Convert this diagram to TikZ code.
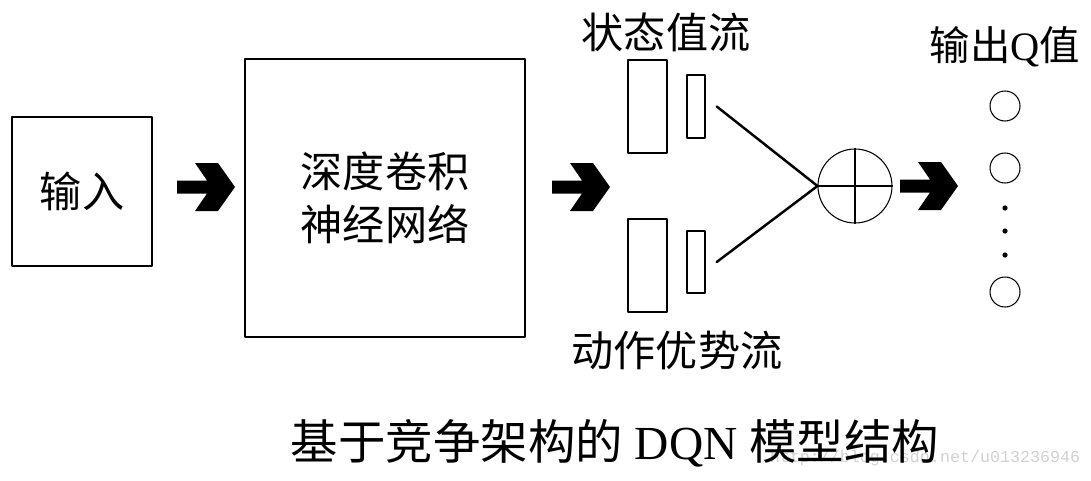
\documentclass[tikz,border=0pt]{standalone}
\usepackage{fontspec}
\setmainfont{Liberation Serif}
\setmonofont{Liberation Mono}
\newfontfamily\cjk{Noto Sans CJK SC}
\usetikzlibrary{positioning}

\tikzset{
  blk/.style={draw,line width=0.8pt,inner sep=0pt},
  lbl/.style={font=\cjk\fontsize{24}{28}\selectfont,inner sep=0pt},
  outq/.style={draw,circle,line width=0.6pt,minimum size=0.6cm,inner sep=0pt},
  fatarrow/.pic={\fill (-29,-6.5) -- (1,-6.5) -- (-11,-24) -- (12,-24) -- (29,0) -- (12,24) -- (-11,24) -- (1,6.5) -- (-29,6.5) -- cycle;}
}

\begin{document}
\begin{tikzpicture}[x=0.02cm,y=-0.02cm,line cap=round,line join=round]
  \useasboundingbox (0,0) rectangle (1091,480);
  % input and network
  \node[blk,minimum width=2.8cm,minimum height=2.98cm] (in) at (82,191.5) {};
  \node[lbl] at (in.center) {输入};
  \node[blk,minimum width=5.6cm,minimum height=5.56cm] (dnn) at (385,198) {};
  \node[lbl,align=center] at (dnn.center) {深度卷积\\[2pt]神经网络};
  \pic at (206,187) {fatarrow};
  \pic at (581,187) {fatarrow};
  % two streams
  \node[blk,minimum width=0.78cm,minimum height=1.86cm] (vbig) at (647.5,106.5) {};
  \node[blk,minimum width=0.36cm,minimum height=1.26cm] (vs) at (696,106.5) {};
  \node[blk,minimum width=0.78cm,minimum height=1.86cm] (abig) at (647.5,265.5) {};
  \node[blk,minimum width=0.36cm,minimum height=1.24cm] (as) at (696,262) {};
  \node[lbl] (vlbl) at (666,32) {状态值流};
  \node[lbl] (albl) at (677,350) {动作优势流};
  % aggregation
  \node[draw,circle,line width=0.6pt,minimum size=1.48cm,inner sep=0pt] (plus) at (855,186) {};
  \draw[line width=0.6pt] (plus.west) -- (plus.east) (plus.north) -- (plus.south);
  \draw[line width=1.4pt] ([xshift=0.22cm]vs.east) -- (plus.west);
  \draw[line width=1.4pt] ([xshift=0.22cm]as.east) -- (plus.west);
  \pic at (929,186) {fatarrow};
  % outputs
  \node[lbl,font=\cjk\fontsize{23}{27}\selectfont] (qlbl) at (1005,47) {输出{\rmfamily Q}值};
  \node[outq] (q1) at (1005,106) {};
  \node[outq] (q2) at (1005,168) {};
  \node[outq] (qn) at (1005,292) {};
  \foreach \y in {208,231,255}
    \fill (1005,\y) circle (2.6);
  % caption (watermark sits behind it)
  \node[inner sep=0pt,font=\ttfamily\fontsize{9.5}{11}\selectfont,text=black!18] (wm) at (925,458) {http://blog.csdn.net/u013236946};
  \node[inner sep=0pt,font=\fontsize{27}{31}\selectfont] (cap) at (615,443) {{\cjk 基于竞争架构的} DQN {\cjk 模型结构}};
\end{tikzpicture}
\end{document}
